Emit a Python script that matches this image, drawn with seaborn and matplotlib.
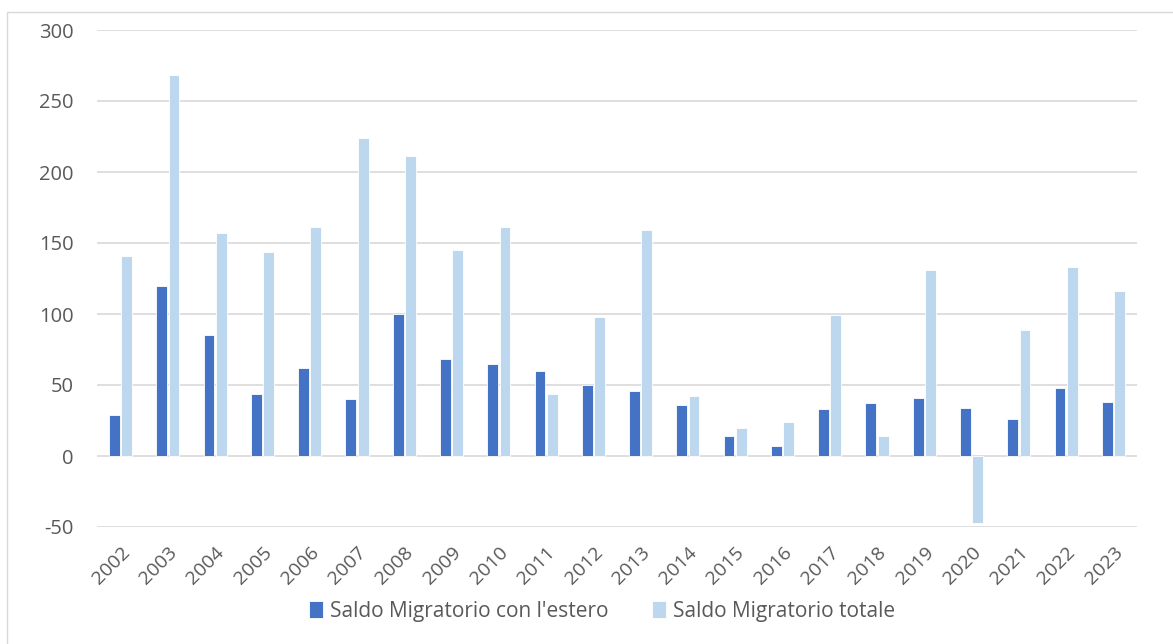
import matplotlib
matplotlib.use("Agg")
import matplotlib.pyplot as plt
from matplotlib.patches import Rectangle
import seaborn as sns
import pandas as pd

years = [str(y) for y in range(2002, 2024)]
saldo_estero = [29, 120, 85, 44, 62, 40, 100, 68, 65, 60, 50, 46, 36, 14, 7, 33, 37, 41, 34, 26, 48, 38]
saldo_totale = [141, 268, 157, 144, 161, 224, 211, 145, 161, 44, 98, 159, 42, 20, 24, 99, 14, 131, -47, 89, 133, 116]
series_names = ["Saldo Migratorio con l'estero", "Saldo Migratorio totale"]
y_ticks = [-50, 0, 50, 100, 150, 200, 250, 300]

df = pd.DataFrame({
    "anno": years * 2,
    "valore": saldo_estero + saldo_totale,
    "serie": [series_names[0]] * len(years) + [series_names[1]] * len(years),
})

sns.set_theme(style="white")
plt.rcParams["font.family"] = ["Open Sans", "DejaVu Sans"]
plt.rcParams["axes.unicode_minus"] = False

W, H = 1173, 644
fig = plt.figure(figsize=(W / 100, H / 100), dpi=100)
ax = fig.add_axes([97 / W, 1 - 527 / H, (1137 - 97) / W, (527 - 30) / H])

palette = {series_names[0]: "#4472C4", series_names[1]: "#BDD7EE"}
sns.barplot(data=df, x="anno", y="valore", hue="serie", palette=palette,
            width=0.52, gap=0.12, edgecolor="white", linewidth=0.6,
            saturation=1, ax=ax, zorder=3)

ax.set_ylim(-50, 300)
ax.set_yticks(y_ticks)
ax.set_xlim(-0.5, len(years) - 0.5)
ax.yaxis.grid(True, color="#D9D9D9", linewidth=1.2, zorder=0)
ax.set_axisbelow(True)
for s in ax.spines.values():
    s.set_visible(False)
ax.set_xlabel("")
ax.set_ylabel("")
ax.tick_params(axis="y", length=0, pad=17, labelsize=14.5, labelcolor="#595959")
ax.tick_params(axis="x", length=0, pad=12, labelsize=14, labelcolor="#595959")
plt.setp(ax.get_xticklabels(), rotation=45, ha="right", rotation_mode="anchor")

leg = ax.legend(loc="center", bbox_to_anchor=(602 / W, 1 - 611 / H),
                bbox_transform=fig.transFigure, ncol=2, frameon=False,
                fontsize=15, handlelength=0.65, handleheight=0.85,
                handletextpad=0.35, columnspacing=2.1)
for t in leg.get_texts():
    t.set_color("#595959")

# light frame around the chart area
fig.patches.append(Rectangle((7 / W, -0.05), 1.1, 1 - 12 / H + 0.05,
                             transform=fig.transFigure, fill=False,
                             edgecolor="#D9D9D9", linewidth=1.0))

fig.savefig("out.png", dpi=100, facecolor="white")
